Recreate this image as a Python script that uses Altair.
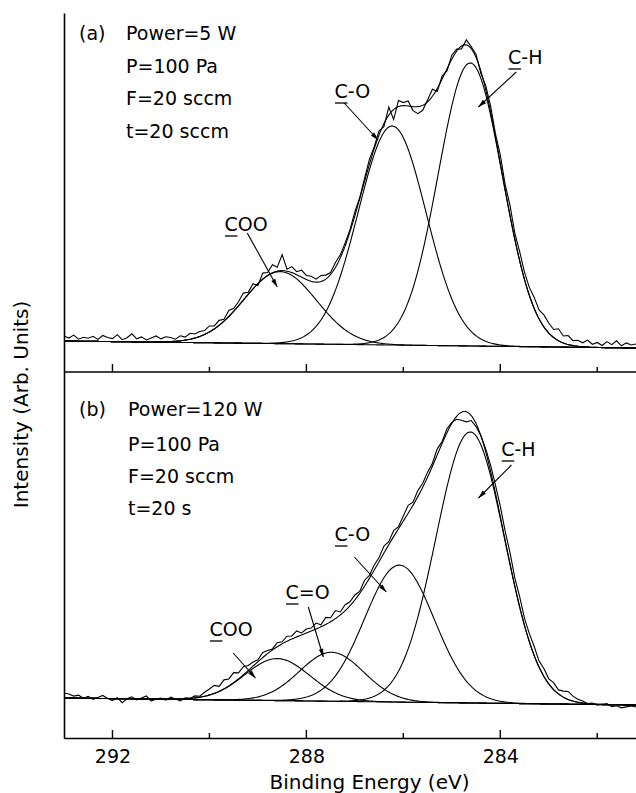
import math
import altair as alt
import numpy as np
import pandas as pd

FONT = "DejaVu Sans"

# ---------------- data ----------------
tags = ["(a)", "(b)"]
cond_a = ["Power=5 W", "P=100 Pa", "F=20 sccm", "t=20 sccm"]
cond_b = ["Power=120 W", "P=100 Pa", "F=20 sccm", "t=20 s"]

be_low, be_high = 281.2, 293.0
major_ticks = [292, 288, 284]
minor_ticks = [290, 286, 282]

# panel (a): fitted Gaussian components on a linear background
a_centres = [288.54, 286.23, 284.62]   # COO, C-O, C-H  (eV)
a_heights = [72, 219, 283]
a_sigmas = [0.75, 0.70, 0.66]
a_bg_ends = [31, 24]                    # background at 293.0 eV and 281.2 eV

# panel (b)
b_centres = [288.60, 287.48, 286.08, 284.62]   # COO, C=O, C-O, C-H
b_heights = [42, 49, 137, 271]
b_sigmas = [0.67, 0.66, 0.72, 0.71]
b_bg_ends = [40, 33]

# measured spectra: deviation of the raw trace from the fit envelope,
# read every 0.1 eV from 293.0 eV down to 281.2 eV
a_resid = [5, 3, 6, 2, 4, 3, 5, 2, 6, 4, 3, 7, 2, 4, 8, 3, 5, 2, 4, 6, 3, 5, 4, 2, 5, 3, 6, 4, 5,
           4, 6, 3, 5, 2, 6, 3, 4, 7, 2,
           5, -2, 6, 3, 8, 4, 16, 2, 6, 3, 7, 4,
           5, 3, 6, 4, 2, 5, 3,
           3, 2, 4, 1, 3, 5, 2,
           4, -3, 8, -10, 6, 3, 5, -4, -7, -5, 2,
           7, -3, 3, -2, 4, 2, -3, 5, 2,
           3, -2, 4, 6, 3, 8, 5, 10, 6, 9, 7,
           8, 11, 9, 12, 10, 8, 12, 7, 9, 5,
           6, 4, 7, 3, 5, 2, 6, 3, 7, 2, 5, 3, 4]
b_resid = [5, 4, 2, 3, 0, 2, -1, 1, 3, 0, -2, 1, -4, 0, 2, -1, 1, 3, -2, 0, 1, -1, 2, 0, -2, 1, 0, 2, 1,
           4, 6, 8, 5, 9, 7, 10, 6, 8, 5,
           4, 2, 5, 3, 1, 4, 2, 5, 3, 6, 2, 4,
           3, 6, 2, 7, 4, 8, 3, 6, 4, 5, 2, 6, 3, 5,
           4, 7, 3, 6, 2, 5, 8, 3, 6, 4, 5,
           3, 6, 2, 4, 1, -3, -8, -10, -5,
           -3, 0, 3, 6, 8, 10, 9, 11, 8, 10, 7,
           8, 9, 6, 8, 5, 7, 4, 6, 8, 5,
           3, 2, 0, 1, -1, 0, 1, -2, -1, -3, -2, -1, -2]
assert len(a_resid) == 119 and len(b_resid) == 119

# peak labels (label left edge, label centre height, arrow start, arrow tip)
lab_panel = ["a", "a", "a", "b", "b", "b", "b"]
lab_text = ["COO", "C-O", "C-H", "COO", "C=O", "C-O", "C-H"]
lab_be = [289.69, 287.42, 283.84, 290.00, 288.43, 287.42, 283.98]
lab_val = [147, 280, 314, 108, 145, 203, 288]
arr_be0 = [289.22, 287.22, 283.67, 289.51, 287.96, 287.01, 283.77]
arr_val0 = [139, 269, 300, 85, 131, 181, 273]
arr_be1 = [288.60, 286.52, 284.45, 289.05, 287.65, 286.35, 284.45]
arr_val1 = [85, 232, 265, 60, 81, 146, 240]

# ---------------- layout ----------------
W = 572
H_A, H_B = 359, 366
H = H_A + H_B
PX = W / (be_high - be_low)          # pixels per eV
offset = {"a": H_B, "b": 0}          # panel (a) is stacked above panel (b)


def bg(x, ends):
    return ends[1] + (x - be_low) * (ends[0] - ends[1]) / (be_high - be_low)


def gauss(x, c, h, s):
    return h * np.exp(-((x - c) ** 2) / (2 * s * s))


fine = np.linspace(be_low, be_high, 473)
grid = np.round(be_high - 0.1 * np.arange(119), 2)

fit_frames, data_frames = [], []
for p, cs, hs, ss, ends, res in [("a", a_centres, a_heights, a_sigmas, a_bg_ends, a_resid),
                                 ("b", b_centres, b_heights, b_sigmas, b_bg_ends, b_resid)]:
    base = bg(fine, ends)
    fit_frames.append(pd.DataFrame({"BE": fine, "I": base + offset[p], "series": f"{p}-bg"}))
    env = base.copy()
    for k, (c, h, s) in enumerate(zip(cs, hs, ss)):
        comp = gauss(fine, c, h, s)
        env = env + comp
        fit_frames.append(pd.DataFrame({"BE": fine, "I": base + comp + offset[p], "series": f"{p}-c{k}"}))
    fit_frames.append(pd.DataFrame({"BE": fine, "I": env + offset[p], "series": f"{p}-env"}))
    genv = bg(grid, ends) + sum(gauss(grid, c, h, s) for c, h, s in zip(cs, hs, ss))
    data_frames.append(pd.DataFrame({"BE": grid, "I": genv + np.array(res) + offset[p], "series": f"{p}-data"}))

fit_df = pd.concat(fit_frames, ignore_index=True)
data_df = pd.concat(data_frames, ignore_index=True)

xscale = alt.Scale(domain=[be_low, be_high], reverse=True, nice=False, zero=False)
yscale = alt.Scale(domain=[0, H], nice=False, zero=False)

x_enc = alt.X("BE:Q", scale=xscale,
              axis=alt.Axis(values=major_ticks, ticks=False, grid=False, format="d",
                            labelFont=FONT, labelFontSize=19, labelColor="black", labelPadding=9,
                            domainColor="black", domainWidth=1.6,
                            title="Binding Energy (eV)", titleFont=FONT, titleFontSize=20,
                            titleFontWeight="normal", titleColor="black", titlePadding=6,
                            titleX=305))
y_enc = alt.Y("I:Q", scale=yscale,
              axis=alt.Axis(labels=False, ticks=False, grid=False,
                            domainColor="black", domainWidth=1.6,
                            title="Intensity (Arb. Units)", titleFont=FONT, titleFontSize=20,
                            titleFontWeight="normal", titleColor="black",
                            titleAngle=270, titleAlign="center", titleBaseline="alphabetic",
                            titleX=-37, titleY=391))

fits = alt.Chart(fit_df).mark_line(color="black", strokeWidth=1.1, clip=True).encode(
    x=x_enc, y=y_enc, detail="series:N")
meas = alt.Chart(data_df).mark_line(color="black", strokeWidth=1.1, clip=True).encode(
    x="BE:Q", y="I:Q", detail="series:N")

separator = alt.Chart(pd.DataFrame({"k": [0]})).mark_rule(color="black", strokeWidth=1.6).encode(
    x=alt.value(0), x2=alt.value(W), y=alt.value(H_A))

tick_layers = []
for ypix in [H_A, H]:
    for vals, ln in [(major_ticks, 8), (minor_ticks, 5)]:
        tick_layers.append(
            alt.Chart(pd.DataFrame({"BE": vals})).mark_rule(color="black", strokeWidth=1.4).encode(
                x="BE:Q", y=alt.value(ypix), y2=alt.value(ypix - ln)))

# condition texts (positions in pixels from the plot's top-left, converted to data units)
txt_rows = []
for p, tag, conds, tag_px, cond_px, ys in [
        ("a", tags[0], cond_a, 15, 62, [21, 54, 86, 119]),
        ("b", tags[1], cond_b, 15, 64, [397, 432, 464, 496])]:
    txt_rows.append({"t": tag, "BE": be_high - tag_px / PX, "I": H - ys[0]})
    for c, yy in zip(conds, ys):
        txt_rows.append({"t": c, "BE": be_high - cond_px / PX, "I": H - yy})
cond_text = alt.Chart(pd.DataFrame(txt_rows)).mark_text(
    font=FONT, fontSize=19, align="left", baseline="middle", color="black").encode(
    x="BE:Q", y="I:Q", text="t:N")

# peak labels, underlines, arrows
lab_rows, ul_rows, arr_rows, head_rows = [], [], [], []
C_W = 13.0  # width of the underlined "C" in pixels
for p, t, lb, lv, b0, v0, b1, v1 in zip(lab_panel, lab_text, lab_be, lab_val,
                                         arr_be0, arr_val0, arr_be1, arr_val1):
    o = offset[p]
    lab_rows.append({"t": t, "BE": lb, "I": lv + o})
    ul_rows.append({"BE": lb - 0.5 / PX, "BE2": lb - C_W / PX, "I": lv + o - 11})
    arr_rows.append({"BE": b0, "BE2": b1, "I": v0 + o, "I2": v1 + o})
    dxp = -(b1 - b0) * PX
    dyp = -(v1 - v0)
    L = math.hypot(dxp, dyp)
    ux, uy = dxp / L, dyp / L
    ang = math.degrees(math.atan2(dxp, -dyp)) % 360
    head_rows.append({"BE": b1 + 4 * ux / PX, "I": v1 + o + 4 * uy, "ang": ang})

labels = alt.Chart(pd.DataFrame(lab_rows)).mark_text(
    font=FONT, fontSize=19, align="left", baseline="middle", color="black").encode(
    x="BE:Q", y="I:Q", text="t:N")
underlines = alt.Chart(pd.DataFrame(ul_rows)).mark_rule(color="black", strokeWidth=1.3).encode(
    x="BE:Q", x2="BE2:Q", y="I:Q")
arrows = alt.Chart(pd.DataFrame(arr_rows)).mark_rule(color="black", strokeWidth=1.1).encode(
    x="BE:Q", x2="BE2:Q", y="I:Q", y2="I2:Q")
heads = alt.Chart(pd.DataFrame(head_rows)).mark_point(
    shape="M0,-1L0.55,1L-0.55,1Z", filled=True, size=70, color="black", opacity=1).encode(
    x="BE:Q", y="I:Q", angle=alt.Angle("ang:Q", scale=None))

chart = alt.layer(fits, meas, separator, *tick_layers, cond_text, labels, underlines, arrows, heads).properties(
    width=W, height=H,
    autosize=alt.AutoSizeParams(type="none"),
    padding={"left": 64, "top": 13, "right": 0, "bottom": 55},
    background="white",
).configure_view(stroke=None)

chart.save("out.html", embed_options={"renderer": "svg", "actions": False})
